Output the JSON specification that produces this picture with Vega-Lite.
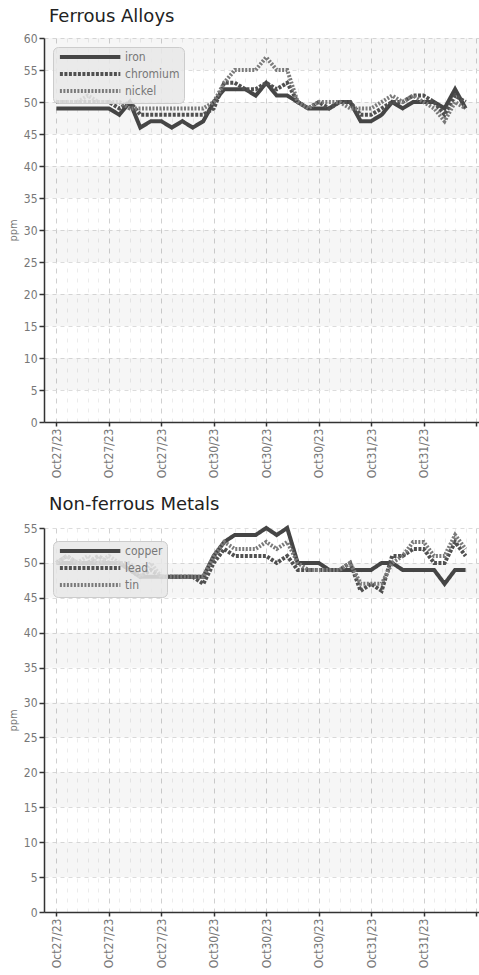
{
  "$schema": "https://vega.github.io/schema/vega-lite/v6.json",
  "padding": {"left": 7, "top": 8, "right": 0, "bottom": 0},
  "background": "white",
  "spacing": 18,
  "config": {
    "view": {"stroke": null},
    "font": "Liberation Sans Narrow, DejaVu Sans Condensed, Roboto",
    "title": {"font": "DejaVu Sans", "fontSize": 18, "fontWeight": "normal", "color": "#222", "anchor": "start", "frame": "group", "dx": 5, "offset": 6},
    "axis": {
      "domainColor": "#333", "domainWidth": 1.5, "tickColor": "#333", "tickSize": 5, "tickWidth": 1.5,
      "labelColor": "#777", "labelFont": "Liberation Sans Narrow, DejaVu Sans Condensed, Roboto", "labelFontSize": 12, "labelPadding": 2, "labelOverlap": false,
      "gridColor": "#dcdcdc", "gridDash": [4, 4],
      "titleColor": "#777", "titleFont": "Liberation Sans Narrow, DejaVu Sans Condensed, Roboto", "titleFontSize": 11, "titleFontWeight": "normal", "titlePadding": 5
    },
    "legend": {
      "orient": "none", "legendX": 9, "legendY": 9, "symbolType": "M-1,0L18.5,0", "symbolSize": 38.44,
      "labelColor": "#777", "labelFontSize": 12, "labelFont": "Liberation Sans Narrow, DejaVu Sans Condensed, Roboto", "labelOffset": 56,
      "fillColor": "rgba(232,232,232,0.85)", "strokeColor": "#cccccc", "cornerRadius": 5, "padding": 4, "rowPadding": 1
    }
  },
  "datasets": {
    "ferrous": [
      {"i": 0, "iron": 49, "chromium": 50, "nickel": 50},
      {"i": 1, "iron": 49, "chromium": 50, "nickel": 50},
      {"i": 2, "iron": 49, "chromium": 50, "nickel": 50},
      {"i": 3, "iron": 49, "chromium": 50, "nickel": 51},
      {"i": 4, "iron": 49, "chromium": 50, "nickel": 50},
      {"i": 5, "iron": 49, "chromium": 50, "nickel": 50},
      {"i": 6, "iron": 48, "chromium": 49, "nickel": 50},
      {"i": 7, "iron": 50, "chromium": 50, "nickel": 49},
      {"i": 8, "iron": 46, "chromium": 48, "nickel": 49},
      {"i": 9, "iron": 47, "chromium": 48, "nickel": 49},
      {"i": 10, "iron": 47, "chromium": 48, "nickel": 49},
      {"i": 11, "iron": 46, "chromium": 48, "nickel": 49},
      {"i": 12, "iron": 47, "chromium": 48, "nickel": 49},
      {"i": 13, "iron": 46, "chromium": 48, "nickel": 49},
      {"i": 14, "iron": 47, "chromium": 48, "nickel": 49},
      {"i": 15, "iron": 50, "chromium": 49, "nickel": 50},
      {"i": 16, "iron": 52, "chromium": 53, "nickel": 53},
      {"i": 17, "iron": 52, "chromium": 53, "nickel": 55},
      {"i": 18, "iron": 52, "chromium": 52, "nickel": 55},
      {"i": 19, "iron": 51, "chromium": 52, "nickel": 55},
      {"i": 20, "iron": 53, "chromium": 53, "nickel": 57},
      {"i": 21, "iron": 51, "chromium": 52, "nickel": 55},
      {"i": 22, "iron": 51, "chromium": 53, "nickel": 55},
      {"i": 23, "iron": 50, "chromium": 50, "nickel": 50},
      {"i": 24, "iron": 49, "chromium": 49, "nickel": 49},
      {"i": 25, "iron": 49, "chromium": 50, "nickel": 50},
      {"i": 26, "iron": 49, "chromium": 49, "nickel": 50},
      {"i": 27, "iron": 50, "chromium": 50, "nickel": 50},
      {"i": 28, "iron": 50, "chromium": 50, "nickel": 49},
      {"i": 29, "iron": 47, "chromium": 48, "nickel": 49},
      {"i": 30, "iron": 47, "chromium": 48, "nickel": 49},
      {"i": 31, "iron": 48, "chromium": 49, "nickel": 50},
      {"i": 32, "iron": 50, "chromium": 50, "nickel": 51},
      {"i": 33, "iron": 49, "chromium": 50, "nickel": 50},
      {"i": 34, "iron": 50, "chromium": 51, "nickel": 51},
      {"i": 35, "iron": 50, "chromium": 51, "nickel": 50},
      {"i": 36, "iron": 50, "chromium": 50, "nickel": 49},
      {"i": 37, "iron": 49, "chromium": 48, "nickel": 47},
      {"i": 38, "iron": 52, "chromium": 51, "nickel": 50},
      {"i": 39, "iron": 49, "chromium": 50, "nickel": 49}
    ],
    "nonferrous": [
      {"i": 0, "copper": 50, "lead": 50, "tin": 50},
      {"i": 1, "copper": 50, "lead": 51, "tin": 51},
      {"i": 2, "copper": 50, "lead": 50, "tin": 50},
      {"i": 3, "copper": 50, "lead": 50, "tin": 51},
      {"i": 4, "copper": 50, "lead": 51, "tin": 50},
      {"i": 5, "copper": 50, "lead": 50, "tin": 51},
      {"i": 6, "copper": 50, "lead": 50, "tin": 50},
      {"i": 7, "copper": 49, "lead": 49, "tin": 50},
      {"i": 8, "copper": 48, "lead": 48, "tin": 48},
      {"i": 9, "copper": 48, "lead": 49, "tin": 50},
      {"i": 10, "copper": 48, "lead": 48, "tin": 48},
      {"i": 11, "copper": 48, "lead": 48, "tin": 48},
      {"i": 12, "copper": 48, "lead": 48, "tin": 48},
      {"i": 13, "copper": 48, "lead": 48, "tin": 48},
      {"i": 14, "copper": 48, "lead": 47, "tin": 48},
      {"i": 15, "copper": 51, "lead": 50, "tin": 51},
      {"i": 16, "copper": 53, "lead": 52, "tin": 53},
      {"i": 17, "copper": 54, "lead": 51, "tin": 52},
      {"i": 18, "copper": 54, "lead": 51, "tin": 52},
      {"i": 19, "copper": 54, "lead": 51, "tin": 52},
      {"i": 20, "copper": 55, "lead": 51, "tin": 53},
      {"i": 21, "copper": 54, "lead": 50, "tin": 52},
      {"i": 22, "copper": 55, "lead": 51, "tin": 53},
      {"i": 23, "copper": 50, "lead": 49, "tin": 50},
      {"i": 24, "copper": 50, "lead": 49, "tin": 49},
      {"i": 25, "copper": 50, "lead": 49, "tin": 49},
      {"i": 26, "copper": 49, "lead": 49, "tin": 49},
      {"i": 27, "copper": 49, "lead": 49, "tin": 49},
      {"i": 28, "copper": 49, "lead": 50, "tin": 50},
      {"i": 29, "copper": 49, "lead": 46, "tin": 47},
      {"i": 30, "copper": 49, "lead": 47, "tin": 47},
      {"i": 31, "copper": 50, "lead": 46, "tin": 47},
      {"i": 32, "copper": 50, "lead": 51, "tin": 50},
      {"i": 33, "copper": 49, "lead": 51, "tin": 51},
      {"i": 34, "copper": 49, "lead": 52, "tin": 53},
      {"i": 35, "copper": 49, "lead": 52, "tin": 53},
      {"i": 36, "copper": 49, "lead": 50, "tin": 51},
      {"i": 37, "copper": 47, "lead": 50, "tin": 51},
      {"i": 38, "copper": 49, "lead": 53, "tin": 54},
      {"i": 39, "copper": 49, "lead": 51, "tin": 52}
    ],
    "bandsTop": [
      {"lo": 5, "hi": 10}, {"lo": 15, "hi": 20}, {"lo": 25, "hi": 30}, {"lo": 35, "hi": 40}, {"lo": 45, "hi": 50}, {"lo": 55, "hi": 60}
    ],
    "bandsBottom": [
      {"lo": 5, "hi": 10}, {"lo": 15, "hi": 20}, {"lo": 25, "hi": 30}, {"lo": 35, "hi": 40}, {"lo": 45, "hi": 50}
    ]
  },
  "vconcat": [
    {
      "title": "Ferrous Alloys",
      "width": 435,
      "height": 384,
      "layer": [
        {
          "data": {"name": "bandsTop"},
          "mark": {"type": "rect", "color": "#000000", "opacity": 0.035},
          "encoding": {
            "y": {"field": "lo", "type": "quantitative", "scale": {"domain": [0, 60], "nice": false}, "axis": {"values": [0,5,10,15,20,25,30,35,40,45,50,55,60], "title": "ppm"}},
            "y2": {"field": "hi"}
          }
        },
        {
          "data": {"name": "ferrous"},
          "transform": [{"fold": ["iron", "chromium", "nickel"], "as": ["metal", "ppm"]}],
          "mark": {"type": "line", "strokeJoin": "miter"},
          "encoding": {
            "x": {"field": "i", "type": "quantitative", "scale": {"domain": [-1.18, 40.28], "nice": false, "zero": false},
              "axis": {"title": null, "values": [0,1,2,3,4,5,6,7,8,9,10,11,12,13,14,15,16,17,18,19,20,21,22,23,24,25,26,27,28,29,30,31,32,33,34,35,36,37,38,39,40],
                "labelAngle": -90, "labelAlign": "right", "labelBaseline": "middle",
                "labelExpr": "(datum.value % 5 === 0 && datum.value < 40) ? (datum.value < 15 ? 'Oct27/23' : (datum.value < 30 ? 'Oct30/23' : 'Oct31/23')) : ''",
                "tickSize": {"condition": {"test": "datum.value % 5 === 0", "value": 4}, "value": 0},
                "gridColor": {"condition": {"test": "datum.value % 5 === 0", "value": "#d0d0d0"}, "value": "#ececec"},
                "gridDash": {"condition": {"test": "datum.value % 5 === 0", "value": [5, 5]}, "value": [4, 6]}}},
            "y": {"field": "ppm", "type": "quantitative", "axis": {"values": [0,5,10,15,20,25,30,35,40,45,50,55,60], "title": "ppm"}},
            "color": {"field": "metal", "type": "nominal", "sort": ["iron", "chromium", "nickel"], "scale": {"domain": ["iron", "chromium", "nickel"], "range": ["#454545", "#505050", "#7a7a7a"]}, "legend": {"title": null}},
            "strokeDash": {"field": "metal", "type": "nominal", "sort": ["iron", "chromium", "nickel"], "scale": {"domain": ["iron", "chromium", "nickel"], "range": [[1, 0], [3, 1.5], [2, 1.5]]}, "legend": {"title": null}},
            "strokeWidth": {"field": "metal", "type": "nominal", "sort": ["iron", "chromium", "nickel"], "scale": {"domain": ["iron", "chromium", "nickel"], "range": [4, 4, 3]}, "legend": {"title": null}}
          }
        }
      ]
    },
    {
      "title": "Non-ferrous Metals",
      "width": 435,
      "height": 384,
      "layer": [
        {
          "data": {"name": "bandsBottom"},
          "mark": {"type": "rect", "color": "#000000", "opacity": 0.035},
          "encoding": {
            "y": {"field": "lo", "type": "quantitative", "scale": {"domain": [0, 55], "nice": false}, "axis": {"values": [0,5,10,15,20,25,30,35,40,45,50,55], "title": "ppm"}},
            "y2": {"field": "hi"}
          }
        },
        {
          "data": {"name": "nonferrous"},
          "transform": [{"fold": ["copper", "lead", "tin"], "as": ["metal", "ppm"]}],
          "mark": {"type": "line", "strokeJoin": "miter"},
          "encoding": {
            "x": {"field": "i", "type": "quantitative", "scale": {"domain": [-1.18, 40.28], "nice": false, "zero": false},
              "axis": {"title": null, "values": [0,1,2,3,4,5,6,7,8,9,10,11,12,13,14,15,16,17,18,19,20,21,22,23,24,25,26,27,28,29,30,31,32,33,34,35,36,37,38,39,40],
                "labelAngle": -90, "labelAlign": "right", "labelBaseline": "middle",
                "labelExpr": "(datum.value % 5 === 0 && datum.value < 40) ? (datum.value < 15 ? 'Oct27/23' : (datum.value < 30 ? 'Oct30/23' : 'Oct31/23')) : ''",
                "tickSize": {"condition": {"test": "datum.value % 5 === 0", "value": 4}, "value": 0},
                "gridColor": {"condition": {"test": "datum.value % 5 === 0", "value": "#d0d0d0"}, "value": "#ececec"},
                "gridDash": {"condition": {"test": "datum.value % 5 === 0", "value": [5, 5]}, "value": [4, 6]}}},
            "y": {"field": "ppm", "type": "quantitative", "axis": {"values": [0,5,10,15,20,25,30,35,40,45,50,55], "title": "ppm"}},
            "color": {"field": "metal", "type": "nominal", "sort": ["copper", "lead", "tin"], "scale": {"domain": ["copper", "lead", "tin"], "range": ["#454545", "#505050", "#7a7a7a"]}, "legend": {"title": null, "legendY": 13}},
            "strokeDash": {"field": "metal", "type": "nominal", "sort": ["copper", "lead", "tin"], "scale": {"domain": ["copper", "lead", "tin"], "range": [[1, 0], [3, 1.5], [2, 1.5]]}, "legend": {"title": null, "legendY": 13}},
            "strokeWidth": {"field": "metal", "type": "nominal", "sort": ["copper", "lead", "tin"], "scale": {"domain": ["copper", "lead", "tin"], "range": [4, 4, 3]}, "legend": {"title": null, "legendY": 13}}
          }
        }
      ]
    }
  ],
  "resolve": {"scale": {"color": "independent", "strokeDash": "independent", "strokeWidth": "independent"}}
}
